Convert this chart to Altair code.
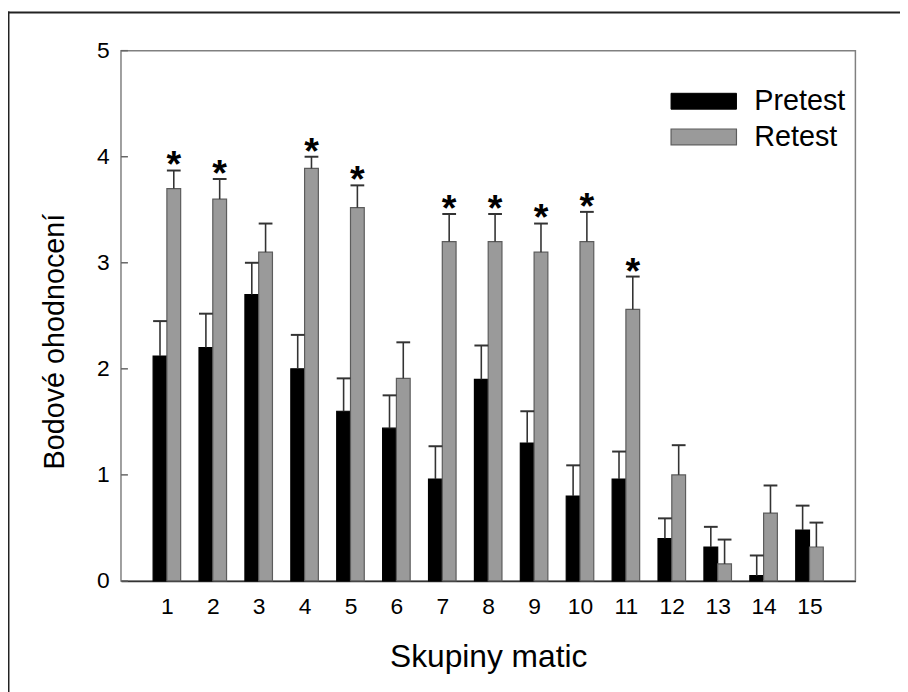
import altair as alt
import pandas as pd

# ---- data ----
groups = list(range(1, 16))
series_names = ["Pretest", "Retest"]
pretest = [2.12, 2.20, 2.70, 2.00, 1.60, 1.44, 0.96, 1.90, 1.30, 0.80, 0.96, 0.40, 0.32, 0.05, 0.48]
pretest_err = [0.33, 0.32, 0.30, 0.32, 0.31, 0.31, 0.31, 0.32, 0.30, 0.29, 0.26, 0.19, 0.19, 0.19, 0.23]
retest = [3.70, 3.60, 3.10, 3.89, 3.52, 1.91, 3.20, 3.20, 3.10, 3.20, 2.56, 1.00, 0.16, 0.64, 0.32]
retest_err = [0.17, 0.19, 0.27, 0.11, 0.21, 0.34, 0.26, 0.26, 0.27, 0.28, 0.31, 0.28, 0.23, 0.26, 0.23]
significant = [1, 1, 0, 1, 1, 0, 1, 1, 1, 1, 1, 0, 0, 0, 0]
y_ticks = [0, 1, 2, 3, 4, 5]
x_title = "Skupiny matic"
y_title = "Bodové ohodnocení"

BAR = 0.30  # bar width in group units

rows = []
for i, g in enumerate(groups):
    rows.append(dict(group=g, series="Pretest", value=pretest[i], top=pretest[i] + pretest_err[i],
                     x0=g - BAR, x1=g, xm=g - BAR / 2, sig=0))
    rows.append(dict(group=g, series="Retest", value=retest[i], top=retest[i] + retest_err[i],
                     x0=g, x1=g + BAR, xm=g + BAR / 2, sig=significant[i]))
df = pd.DataFrame(rows)

FONT = "Liberation Sans"
W, H = 741, 535

xs = alt.Scale(domain=[0, 16], nice=False, zero=False)
ys = alt.Scale(domain=[0, 5], nice=False)
fill_scale = alt.Scale(domain=series_names, range=["#000000", "#9a9a9a"])
stroke_scale = alt.Scale(domain=series_names, range=["#000000", "#5c5c5c"])

base = alt.Chart(df)

x_axis = alt.Axis(values=groups, format="d", title=x_title, ticks=False, grid=False,
                  domain=True, domainColor="#333333", domainWidth=1.5,
                  labelFontSize=23, labelPadding=15, labelColor="#000",
                  titleFontSize=32, titleFontWeight="normal", titleColor="#000",
                  titleX=W / 2, titleY=86, titleBaseline="alphabetic")
y_axis = alt.Axis(values=y_ticks, format="d", title=y_title, ticks=False, grid=False,
                  domain=False, labelFontSize=23, labelPadding=12, labelColor="#000",
                  titleFontSize=29, titleFontWeight="normal", titleColor="#000",
                  titleAngle=270, titleX=-58, titleY=293, titleAlign="center",
                  titleBaseline="alphabetic")

bars = base.mark_rect(strokeWidth=1.2).encode(
    x=alt.X("x0:Q", scale=xs, axis=x_axis),
    x2="x1:Q",
    y=alt.Y("value:Q", scale=ys, axis=y_axis),
    y2=alt.datum(0),
    fill=alt.Fill("series:N", scale=fill_scale, legend=None),
    stroke=alt.Stroke("series:N", scale=stroke_scale, legend=None),
)

stems = base.mark_rule(color="#333333", strokeWidth=1.6).encode(
    x=alt.X("xm:Q", scale=xs, axis=x_axis), y=alt.Y("value:Q", scale=ys, axis=y_axis), y2="top:Q")
caps = base.mark_rule(color="#333333", strokeWidth=2).encode(
    x=alt.X("x0:Q", scale=xs, axis=x_axis), x2="x1:Q", y=alt.Y("top:Q", scale=ys, axis=y_axis))

stars = base.transform_filter("datum.sig == 1").mark_text(
    text="*", font=FONT, fontSize=38, fontWeight="bold", baseline="alphabetic", dy=7,
    color="#000").encode(x=alt.X("xm:Q", scale=xs, axis=x_axis), y=alt.Y("top:Q", scale=ys, axis=y_axis))

ticks = alt.Chart(pd.DataFrame({"t": y_ticks})).mark_rule(color="#666666", strokeWidth=1.5).encode(
    y=alt.Y("t:Q", scale=ys, axis=y_axis), x=alt.value(0), x2=alt.value(7))

one = pd.DataFrame({"a": [0]})
leg_rect1 = alt.Chart(one).mark_rect(fill="#000000", stroke="#000000", strokeWidth=1).encode(
    x=alt.value(555), x2=alt.value(621), y=alt.value(43), y2=alt.value(59))
leg_rect2 = alt.Chart(one).mark_rect(fill="#9a9a9a", stroke="#5c5c5c", strokeWidth=1.2).encode(
    x=alt.value(555), x2=alt.value(621), y=alt.value(79), y2=alt.value(95))
leg_text1 = alt.Chart(one).mark_text(text=series_names[0], font=FONT, fontSize=29, align="left",
                                     baseline="alphabetic", color="#000").encode(
    x=alt.value(639), y=alt.value(60))
leg_text2 = alt.Chart(one).mark_text(text=series_names[1], font=FONT, fontSize=29, align="left",
                                     baseline="alphabetic", color="#000").encode(
    x=alt.value(639), y=alt.value(96))

frame_top = alt.Chart(one).mark_rule(color="#222222", strokeWidth=2).encode(
    x=alt.value(-114), x2=alt.value(790), y=alt.value(-38.5))
frame_left = alt.Chart(one).mark_rule(color="#222222", strokeWidth=2).encode(
    x=alt.value(-113.5), y=alt.value(-39.5), y2=alt.value(660))

chart = alt.layer(
    bars, stems, caps, stars, ticks,
    leg_rect1, leg_rect2, leg_text1, leg_text2,
    frame_top, frame_left,
).properties(
    width=W, height=H,
    padding={"left": 114, "top": 40, "right": 45, "bottom": 109},
    autosize=alt.AutoSizeParams(type="none"),
    background="#ffffff",
).configure_view(
    stroke="#808080", strokeWidth=1.5,
).configure_axis(
    labelFont=FONT, titleFont=FONT, labelFontSize=23,
).configure_text(font=FONT)

chart.save("out.html", embed_options={"renderer": "svg", "actions": False})
